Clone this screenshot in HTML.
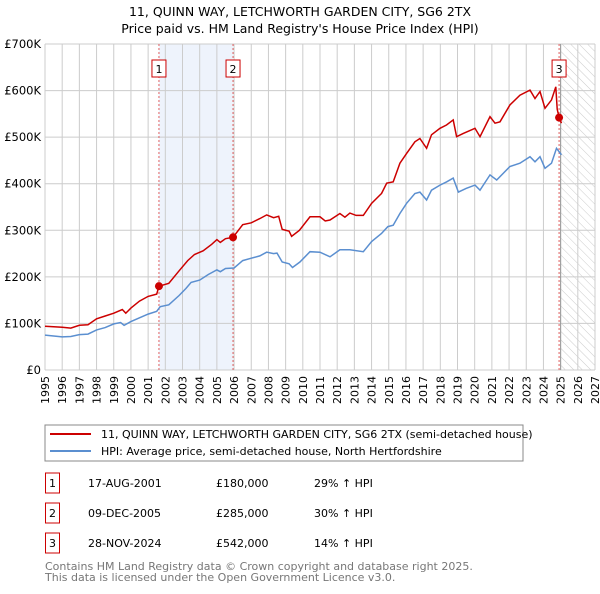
<!DOCTYPE html>
<html><head><meta charset="utf-8"><style>
body{margin:0;background:#fff;width:600px;height:590px;overflow:hidden;font-family:"DejaVu Sans","Liberation Sans",sans-serif;}
svg text{font-family:"DejaVu Sans","Liberation Sans",sans-serif;}
</style></head><body>
<svg id="chart" width="600" height="590" xmlns="http://www.w3.org/2000/svg">
<defs><pattern id="hatch" patternUnits="userSpaceOnUse" width="6" height="6" patternTransform="rotate(-45)"><line x1="0" y1="0" x2="0" y2="6" stroke="#ccc" stroke-width="1"/></pattern></defs>
<text x="300" y="16" text-anchor="middle" font-size="12.5">11, QUINN WAY, LETCHWORTH GARDEN CITY, SG6 2TX</text>
<text x="300" y="33" text-anchor="middle" font-size="12.5">Price paid vs. HM Land Registry's House Price Index (HPI)</text>
<g id="grid"></g><g id="marks"></g>
<g>
<rect x="45" y="425" width="478" height="36" fill="#fff" stroke="#888"/>
<line x1="50" y1="434" x2="91" y2="434" stroke="#cc0000" stroke-width="2"/>
<text x="101" y="438" font-size="11">11, QUINN WAY, LETCHWORTH GARDEN CITY, SG6 2TX (semi-detached house)</text>
<line x1="50" y1="451" x2="91" y2="451" stroke="#5b8fd0" stroke-width="2"/>
<text x="101" y="455" font-size="11">HPI: Average price, semi-detached house, North Hertfordshire</text>
</g>
<g id="table" font-size="11"></g>
<text x="45" y="570" font-size="11" fill="#777">Contains HM Land Registry data © Crown copyright and database right 2025.</text>
<text x="45" y="581" font-size="11" fill="#777">This data is licensed under the Open Government Licence v3.0.</text>
</svg>
<script>
const years=[1995,1996,1997,1998,1999,2000,2001,2002,2003,2004,2005,2006,2007,2008,2009,2010,2011,2012,2013,2014,2015,2016,2017,2018,2019,2020,2021,2022,2023,2024,2025,2026,2027];
const yTicks=[0,100000,200000,300000,400000,500000,600000,700000];
const yTickLabels=["£0","£100K","£200K","£300K","£400K","£500K","£600K","£700K"];
const redT=[1995,1995.5,1996,1996.5,1997,1997.5,1998,1998.5,1999,1999.5,1999.7,2000,2000.5,2001,2001.5,2001.63,2002.2,2002.8,2003.3,2003.7,2004.2,2004.7,2005,2005.2,2005.5,2005.94,2006.5,2007,2007.5,2007.9,2008.3,2008.6,2008.8,2009.2,2009.35,2009.8,2010.42,2011,2011.3,2011.58,2012.16,2012.45,2012.74,2013.1,2013.52,2014,2014.58,2014.88,2015.26,2015.65,2016.04,2016.52,2016.81,2017.2,2017.49,2017.98,2018.36,2018.75,2018.95,2019.34,2020.02,2020.31,2020.89,2021.18,2021.47,2022.05,2022.63,2023.22,2023.51,2023.8,2024.09,2024.47,2024.72,2024.8,2024.91,2025.05];
const redV=[94,93,92,90,96,97,110,116,122,130,122,133,148,158,163,180,186,213,235,248,256,270,280,274,282,285,312,316,325,333,327,330,302,298,287,300,329,329,320,322,336,328,337,332,332,358,379,401,404,444,465,490,497,476,505,519,526,537,501,508,519,501,544,530,533,569,590,601,583,598,562,580,608,560,542,530];
const blueT=[1995,1995.5,1996,1996.5,1997,1997.5,1998,1998.5,1999,1999.4,1999.6,2000,2000.5,2001,2001.5,2001.7,2002.2,2002.8,2003.2,2003.5,2004,2004.5,2005,2005.2,2005.5,2006,2006.5,2007,2007.5,2007.9,2008.3,2008.5,2008.8,2009.2,2009.4,2009.83,2010.42,2011,2011.58,2012.16,2012.74,2013.52,2014,2014.58,2014.95,2015.26,2015.65,2016.04,2016.52,2016.81,2017.2,2017.49,2017.98,2018.36,2018.75,2019.05,2019.5,2020.02,2020.31,2020.89,2021.28,2022.05,2022.63,2023.22,2023.51,2023.8,2024.09,2024.47,2024.76,2025.05];
const blueV=[75,73,71,72,76,77,86,91,99,102,96,104,112,120,126,136,140,160,175,188,193,205,215,211,218,219,235,240,245,253,250,251,232,228,220,232,254,253,243,258,258,254,276,293,308,311,336,358,379,382,365,386,397,404,412,382,390,397,386,419,408,437,444,458,447,458,433,444,476,462];
const sales=[{n:"1",t:2001.63,v:180,date:"17-AUG-2001",price:"£180,000",hpi:"29% \u2191 HPI"},{n:"2",t:2005.94,v:285,date:"09-DEC-2005",price:"£285,000",hpi:"30% \u2191 HPI"},{n:"3",t:2024.91,v:542,date:"28-NOV-2024",price:"£542,000",hpi:"14% \u2191 HPI"}];
const X0=45,X1=595,Y0=370,Y1=44;
const xs=t=>X0+(t-1995)/(2027-1995)*(X1-X0);
const ys=v=>Y0-v/700000*(Y0-Y1);
const NS="http://www.w3.org/2000/svg";
function mk(tag,attrs,parent,text){const e=document.createElementNS(NS,tag);for(const k in attrs)e.setAttribute(k,attrs[k]);if(text!==undefined)e.textContent=text;parent.appendChild(e);return e;}
const grid=document.getElementById('grid'),marks=document.getElementById('marks'),table=document.getElementById('table');
const shade=mk('rect',{x:xs(sales[0].t),y:Y1,width:xs(sales[1].t)-xs(sales[0].t),height:Y0-Y1,fill:'#eef3fc'},grid);


const hat=mk('rect',{x:xs(2025),y:Y1,width:X1-xs(2025),height:Y0-Y1,fill:'url(#hatch)'},grid);


years.forEach(y=>{
 const l=mk('line',{x1:xs(y),x2:xs(y),y1:Y1,y2:Y0,stroke:'#cccccc'},grid);
 
 
 const x=xs(y),t=mk('text',{x:x+4,y:Y0+6,'font-size':'11','text-anchor':'end',transform:`rotate(-90 ${x+4} ${Y0+6})`},grid,String(y));
 
 
});
yTicks.forEach((v,i)=>{
 const l=mk('line',{x1:X0,x2:X1,y1:ys(v),y2:ys(v),stroke:'#cccccc'},grid);
 
 
 const t=mk('text',{x:X0-4,y:ys(v)+4,'font-size':'11.5','text-anchor':'end'},grid,yTickLabels[i]);
 
 
});
const nowL=mk('line',{x1:xs(2025),x2:xs(2025),y1:Y1,y2:Y0,stroke:'#999'},grid);


sales.forEach(s=>{
 const l=mk('line',{x1:xs(s.t),x2:xs(s.t),y1:Y1,y2:Y0,stroke:'#e06060','stroke-dasharray':'2,2'},marks);
 
 
});
const path=(T,V)=>T.map((t,i)=>(i?'L':'M')+xs(t).toFixed(1)+','+ys(V[i]*1000).toFixed(1)).join('');
const bl=mk('path',{d:path(blueT,blueV),fill:'none',stroke:'#5b8fd0','stroke-width':'1.5'},marks);


const rl=mk('path',{d:path(redT,redV),fill:'none',stroke:'#cc0000','stroke-width':'1.5'},marks);


sales.forEach((s,i)=>{
 const c=mk('circle',{cx:xs(s.t),cy:ys(s.v*1000),r:4,fill:'#cc0000'},marks);
 
 
 const bx=xs(s.t)-7;
 const g=mk('g',{},marks);
 
 
 mk('rect',{x:bx,y:60,width:14,height:17,fill:'#fff',stroke:'#cc0000'},g);
 mk('text',{x:bx+7,y:73,'font-size':'11','text-anchor':'middle'},g,s.n);
 const ry=483+30*i;
 const r=mk('g',{},table);
 
 
 mk('rect',{x:45.5,y:ry-10,width:14,height:20,fill:'#fff',stroke:'#cc0000'},r);
 mk('text',{x:52.5,y:ry+4,'text-anchor':'middle'},r,s.n);
 mk('text',{x:88,y:ry+4},r,s.date);
 mk('text',{x:216,y:ry+4},r,s.price);
 mk('text',{x:314,y:ry+4},r,s.hpi);
});
</script>
</body></html>
